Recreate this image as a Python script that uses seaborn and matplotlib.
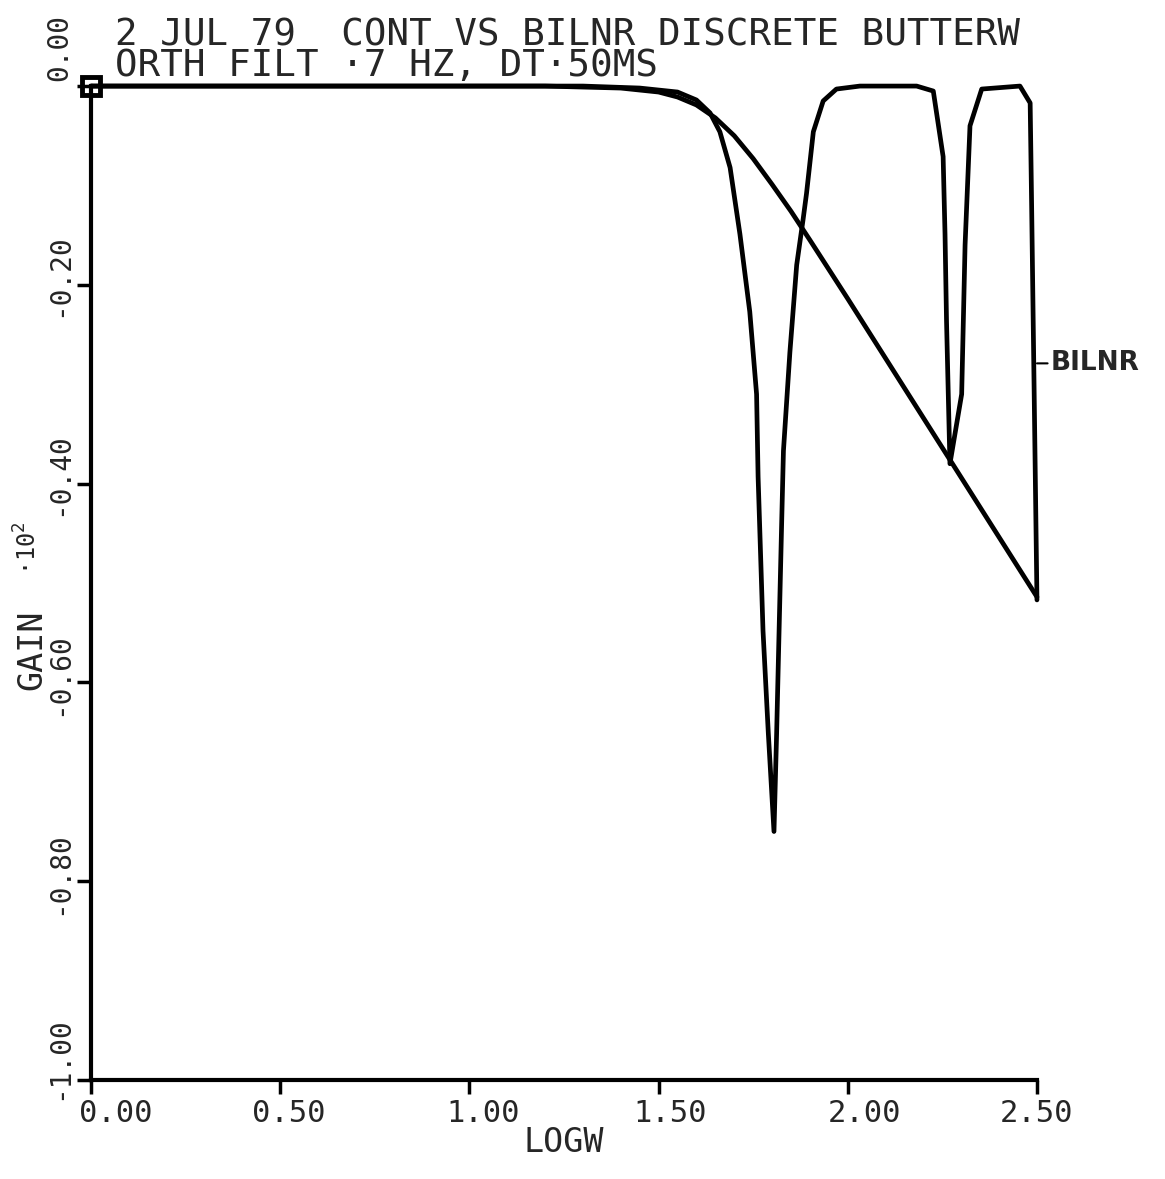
import pandas as pd
import matplotlib
matplotlib.use("Agg")
import matplotlib.pyplot as plt
import matplotlib.transforms as mtransforms
import seaborn as sns

# continuous butterworth
cont_x = [0.00, 0.50, 1.00, 1.20, 1.40, 1.50, 1.55, 1.60, 1.65, 1.70, 1.75,
          1.80, 1.85, 1.90, 2.00, 2.10, 2.20, 2.30, 2.40, 2.50]
cont_y = [0.000, 0.000, 0.000, 0.000, -0.002, -0.006, -0.011, -0.019, -0.032,
          -0.050, -0.073, -0.099, -0.126, -0.155, -0.214, -0.274, -0.334,
          -0.394, -0.454, -0.514]

# bilinear discrete filter
bil_x = [0.00, 0.50, 1.00, 1.30, 1.45, 1.55, 1.60, 1.636, 1.662, 1.689, 1.715,
         1.741, 1.759, 1.763, 1.776, 1.790, 1.805, 1.812, 1.825, 1.830, 1.847,
         1.865, 1.882, 1.891, 1.909, 1.935, 1.970, 2.032, 2.182, 2.226, 2.252,
         2.257, 2.261, 2.270, 2.301, 2.310, 2.323, 2.354, 2.455, 2.482, 2.486,
         2.500]
bil_y = [0.000, 0.000, 0.000, 0.000, -0.002, -0.006, -0.014, -0.027, -0.046,
         -0.082, -0.149, -0.227, -0.310, -0.393, -0.548, -0.651, -0.750, -0.651,
         -0.444, -0.367, -0.268, -0.180, -0.134, -0.108, -0.046, -0.015, -0.003,
         0.000, 0.000, -0.005, -0.071, -0.149, -0.237, -0.380, -0.310, -0.160,
         -0.040, -0.003, 0.000, -0.017, -0.123, -0.517]

x_ticks = [0.0, 0.5, 1.0, 1.5, 2.0, 2.5]
x_labels = ["0.00", "0.50", "1.00", "1.50", "2.00", "2.50"]
y_ticks = [-1.0, -0.8, -0.6, -0.4, -0.2, 0.0]
y_labels = ["-1.00", "-0.80", "-0.60", "-0.40", "-0.20", "0.00"]

title1 = "2 JUL 79  CONT VS BILNR DISCRETE BUTTERW"
title2 = "ORTH FILT ·7 HZ, DT·50MS"

df_cont = pd.DataFrame({"logw": cont_x, "gain": cont_y})
df_bil = pd.DataFrame({"logw": bil_x, "gain": bil_y})

sns.set_style("ticks")
plt.rcParams["font.family"] = ["DejaVu Sans Mono", "DejaVu Sans"]

fig = plt.figure(figsize=(11.65, 11.79), dpi=100)
ax = fig.add_axes([0.0781, 0.084, 0.812, 0.843])

for d in (df_cont, df_bil):
    sns.lineplot(data=d, x="logw", y="gain", ax=ax, color="black", lw=3.4,
                 sort=False, estimator=None, clip_on=False)

# small box marker at origin of the curves
ax.plot(cont_x[:1], cont_y[:1], marker="s", ms=13, mfc="none", mec="black",
        mew=3.5, clip_on=False)

ax.set_xlim(0, 2.5)
ax.set_ylim(-1, 0)
ax.set_xticks(x_ticks)
ax.set_xticklabels(x_labels, fontsize=22)
ax.set_yticks(y_ticks)
ax.set_yticklabels(y_labels, fontsize=20, rotation=90, va="center")
ax.tick_params(axis="both", direction="out", length=10, width=2.5, color="black")
ax.tick_params(axis="x", pad=4)
ax.tick_params(axis="y", pad=3)
sns.despine(ax=ax)
for s in ("left", "bottom"):
    ax.spines[s].set_linewidth(3)
    ax.spines[s].set_color("black")

# nudge tick labels the way the plotter placed them (points)
x_shift = [18, 6, 10, 8, 12, 0]
y_shift = [16, 6, 6, 7, 7, 28]
for lab, dx in zip(ax.get_xticklabels(), x_shift):
    lab.set_transform(lab.get_transform() +
                      mtransforms.ScaledTranslation(dx / 72, 0, fig.dpi_scale_trans))
for lab, dy in zip(ax.get_yticklabels(), y_shift):
    lab.set_transform(lab.get_transform() +
                      mtransforms.ScaledTranslation(0, dy / 72, fig.dpi_scale_trans))

ax.set_xlabel("LOGW", fontsize=24, labelpad=-2)
ax.set_ylabel("")

fig.text(32 / 1165, 1 - 650 / 1179, "GAIN", rotation=90, fontsize=24,
         ha="center", va="center")
fig.text(28 / 1165, 1 - 548 / 1179, "·10$^2$", rotation=90, fontsize=17,
         ha="center", va="center")

fig.text(115 / 1165, 1 - 18 / 1179, title1 + "\n" + title2, fontsize=27,
         ha="left", va="top", linespacing=0.8)

# curve tag at right end
ax.annotate("BILNR", xy=(bil_x[-1], -0.279), xytext=(10, 0),
            textcoords="offset points", fontsize=19, fontweight="bold",
            family="DejaVu Sans", va="center", ha="left",
            arrowprops=dict(arrowstyle="-", lw=1.5, color="black",
                            shrinkA=0, shrinkB=0))

fig.savefig("out.png", dpi=100)
